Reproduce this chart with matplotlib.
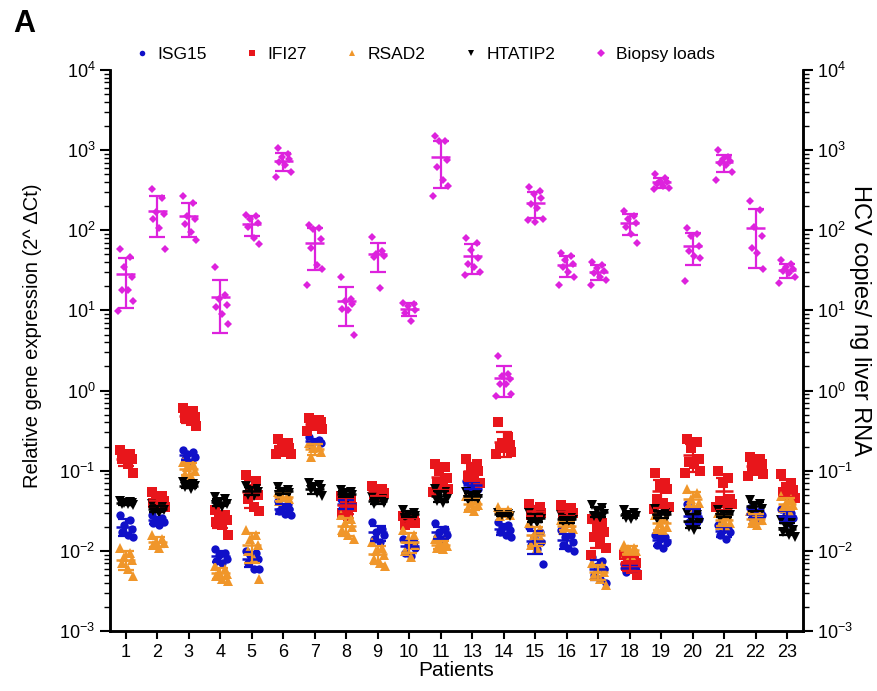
import numpy as np
import matplotlib
matplotlib.use("Agg")
import matplotlib.pyplot as plt
from matplotlib.lines import Line2D
from matplotlib.ticker import FixedLocator

plt.rcParams['font.family'] = ['Liberation Sans', 'DejaVu Sans']

patients = [1, 2, 3, 4, 5, 6, 7, 8, 9, 10, 11, 13, 14, 15, 16, 17, 18, 19, 20, 21, 22, 23]

isg15 = [
    [0.028, 0.024, 0.021, 0.019, 0.017, 0.016, 0.015],
    [0.028, 0.026, 0.024, 0.023, 0.022, 0.021],
    [0.18, 0.17, 0.16, 0.15, 0.14, 0.13],
    [0.0105, 0.0095, 0.0088, 0.008, 0.0075, 0.007],
    [0.01, 0.0095, 0.009, 0.008, 0.007, 0.006, 0.006],
    [0.042, 0.038, 0.035, 0.033, 0.031, 0.029, 0.028],
    [0.26, 0.24, 0.23, 0.22, 0.21],
    [0.045, 0.04, 0.038, 0.035, 0.033],
    [0.023, 0.019, 0.017, 0.016, 0.014, 0.013],
    [0.014, 0.013, 0.012, 0.011, 0.0095, 0.0087],
    [0.022, 0.019, 0.017, 0.016, 0.015, 0.014],
    [0.075, 0.07, 0.065, 0.06, 0.058],
    [0.023, 0.021, 0.02, 0.018, 0.017, 0.016, 0.015],
    [0.02, 0.017, 0.015, 0.013, 0.012, 0.0105, 0.0068],
    [0.018, 0.016, 0.015, 0.013, 0.012, 0.011, 0.01],
    [0.0085, 0.0075, 0.0065, 0.006, 0.005, 0.0045, 0.004],
    [0.0068, 0.0063, 0.006, 0.0058, 0.0055],
    [0.016, 0.015, 0.014, 0.013, 0.012, 0.011],
    [0.038, 0.03, 0.027, 0.025, 0.023, 0.022],
    [0.021, 0.019, 0.018, 0.017, 0.016, 0.014],
    [0.034, 0.031, 0.03, 0.028, 0.026, 0.025],
    [0.033, 0.03, 0.028, 0.026, 0.024, 0.022],
]

ifi27 = [
    [0.18, 0.16, 0.15, 0.14, 0.14, 0.12, 0.095],
    [0.055, 0.048, 0.045, 0.042, 0.040, 0.037, 0.035],
    [0.6, 0.55, 0.5, 0.47, 0.45, 0.42, 0.36],
    [0.032, 0.028, 0.026, 0.024, 0.023, 0.021, 0.016],
    [0.088, 0.075, 0.06, 0.05, 0.045, 0.035, 0.031],
    [0.25, 0.22, 0.2, 0.19, 0.18, 0.17, 0.16, 0.16],
    [0.45, 0.43, 0.42, 0.4, 0.38, 0.36, 0.33, 0.31],
    [0.048, 0.044, 0.04, 0.035, 0.03, 0.027],
    [0.065, 0.06, 0.056, 0.053, 0.05, 0.047],
    [0.027, 0.025, 0.023, 0.022, 0.021],
    [0.12, 0.11, 0.1, 0.08, 0.07, 0.065, 0.06, 0.055],
    [0.14, 0.12, 0.11, 0.1, 0.085, 0.075, 0.07],
    [0.4, 0.26, 0.22, 0.21, 0.2, 0.19, 0.17, 0.16],
    [0.038, 0.035, 0.032, 0.03, 0.028, 0.027],
    [0.037, 0.034, 0.031, 0.03, 0.028, 0.026],
    [0.025, 0.022, 0.02, 0.017, 0.015, 0.013, 0.011, 0.009],
    [0.009, 0.008, 0.0075, 0.007, 0.0065, 0.006, 0.005],
    [0.095, 0.07, 0.065, 0.06, 0.045, 0.04, 0.035, 0.033],
    [0.25, 0.23, 0.19, 0.14, 0.13, 0.12, 0.1, 0.095],
    [0.1, 0.08, 0.07, 0.045, 0.042, 0.04, 0.038, 0.035],
    [0.15, 0.14, 0.13, 0.12, 0.11, 0.1, 0.09, 0.085],
    [0.09, 0.07, 0.062, 0.058, 0.055, 0.05, 0.046],
]

rsad2 = [
    [0.011, 0.0095, 0.0085, 0.0078, 0.007, 0.006, 0.0048],
    [0.016, 0.014, 0.013, 0.0125, 0.012, 0.011],
    [0.13, 0.12, 0.11, 0.10, 0.09, 0.085],
    [0.0065, 0.006, 0.0055, 0.0052, 0.0048, 0.0045, 0.0042],
    [0.018, 0.016, 0.014, 0.012, 0.01, 0.008, 0.0045],
    [0.055, 0.05, 0.047, 0.044, 0.042],
    [0.22, 0.2, 0.19, 0.17, 0.15],
    [0.028, 0.025, 0.022, 0.02, 0.018, 0.016, 0.014],
    [0.013, 0.011, 0.01, 0.009, 0.008, 0.007, 0.0065],
    [0.018, 0.016, 0.014, 0.012, 0.01, 0.0085],
    [0.014, 0.013, 0.012, 0.0115, 0.011, 0.0105],
    [0.048, 0.044, 0.04, 0.037, 0.034, 0.031],
    [0.035, 0.032, 0.03, 0.028, 0.027],
    [0.022, 0.019, 0.016, 0.014, 0.012, 0.011],
    [0.024, 0.022, 0.02, 0.019, 0.018],
    [0.007, 0.0065, 0.006, 0.0055, 0.005, 0.0045, 0.0037],
    [0.012, 0.011, 0.0105, 0.01, 0.0095, 0.009],
    [0.028, 0.025, 0.022, 0.02, 0.019, 0.018],
    [0.06, 0.052, 0.045, 0.04, 0.037, 0.035],
    [0.03, 0.027, 0.025, 0.022, 0.021, 0.02],
    [0.031, 0.028, 0.026, 0.024, 0.022, 0.021],
    [0.048, 0.044, 0.04, 0.037, 0.034, 0.031],
]

htatip2 = [
    [0.042, 0.041, 0.040, 0.040, 0.039, 0.038, 0.037],
    [0.038, 0.035, 0.033, 0.032, 0.031, 0.030],
    [0.072, 0.068, 0.066, 0.064, 0.062, 0.060],
    [0.047, 0.044, 0.041, 0.039, 0.037, 0.035],
    [0.065, 0.06, 0.057, 0.054, 0.05, 0.048],
    [0.062, 0.058, 0.055, 0.052, 0.05],
    [0.07, 0.066, 0.063, 0.06, 0.058, 0.052, 0.048],
    [0.058, 0.055, 0.053, 0.05, 0.048, 0.046],
    [0.047, 0.044, 0.042, 0.04, 0.038],
    [0.032, 0.03, 0.028, 0.027, 0.026],
    [0.06, 0.055, 0.05, 0.045, 0.042, 0.04],
    [0.055, 0.05, 0.048, 0.045, 0.043],
    [0.03, 0.029, 0.028, 0.027],
    [0.03, 0.028, 0.026, 0.025, 0.023, 0.022],
    [0.028, 0.026, 0.025, 0.024, 0.023, 0.022],
    [0.037, 0.034, 0.031, 0.029, 0.027, 0.026],
    [0.032, 0.03, 0.028, 0.027, 0.026, 0.025],
    [0.033, 0.03, 0.028, 0.027, 0.025],
    [0.03, 0.028, 0.025, 0.022, 0.02, 0.018],
    [0.032, 0.03, 0.029, 0.028, 0.026],
    [0.043, 0.038, 0.035, 0.033, 0.031],
    [0.024, 0.022, 0.02, 0.018, 0.017, 0.016, 0.015],
]

biopsy = [
    [59, 47, 35, 26, 18, 18, 13, 9.8],
    [330, 250, 170, 158, 140, 106, 59],
    [267, 221, 151, 138, 119, 94, 76],
    [35, 15.5, 14, 11.8, 11, 8.9, 6.7],
    [155, 150, 140, 125, 110, 80, 68],
    [1050, 900, 830, 780, 720, 650, 540, 460],
    [115, 108, 104, 78, 60, 37, 33, 21],
    [26, 14, 13, 12, 10.5, 10, 5],
    [82, 55, 51, 48, 46, 19],
    [12.5, 12, 11.5, 10, 9.3, 7.4],
    [1500, 1300, 1300, 750, 620, 430, 360, 270],
    [80, 70, 57, 45, 38, 35, 30, 28],
    [2.7, 1.6, 1.5, 1.4, 1.2, 1.2, 0.9, 0.85],
    [345, 310, 280, 250, 215, 190, 140, 135, 128],
    [52, 48, 43, 38, 35, 30, 26, 21],
    [40, 37, 34, 31, 29, 26, 24, 21],
    [175, 150, 140, 122, 110, 90, 70],
    [500, 450, 410, 400, 380, 360, 340, 330],
    [106, 90, 85, 63, 55, 48, 45, 23],
    [1000, 820, 780, 730, 700, 660, 530, 430],
    [235, 180, 110, 85, 60, 52, 33],
    [42, 38, 35, 33, 31, 29, 26, 22],
]

decades = [1e-3, 1e-2, 1e-1, 1e0, 1e1, 1e2, 1e3, 1e4]

# name, data, colour, marker, size
series = [
    ("ISG15", isg15, "#1010c8", "o", 6),
    ("IFI27", ifi27, "#e8161b", "s", 6.5),
    ("RSAD2", rsad2, "#f0962a", "^", 6.5),
    ("HTATIP2", htatip2, "#000000", "v", 6.5),
]
biopsy_style = ("Biopsy loads", biopsy, "#dd22dd", "D", 4.5)

jitter = [-0.18, 0.14, -0.04, 0.2, -0.12, 0.06, 0.24, -0.24, 0.0]

fig = plt.figure(figsize=(8.78, 6.91), dpi=100)
ax = fig.add_axes([0.1253, 0.0868, 0.789, 0.8119])
ax2 = ax.twinx()


def draw(axis, vals, color, marker, ms):
    for i, pts in enumerate(vals):
        xc = i + 1
        xs = [xc + jitter[k % len(jitter)] for k in range(len(pts))]
        axis.plot(xs, pts, linestyle='none', marker=marker, color=color,
                  markersize=ms, markeredgewidth=0, zorder=3)
        m = np.mean(pts)
        sd = np.std(pts, ddof=1)
        low = min(sd, m * 0.9)
        axis.errorbar([xc], [m], yerr=[[low], [sd]], fmt='none', ecolor=color,
                      elinewidth=1.6, capsize=6, capthick=1.6, zorder=4)
        axis.hlines(m, xc - 0.3, xc + 0.3, color=color, linewidth=1.8, zorder=4)


for name, vals, color, marker, ms in series:
    draw(ax, vals, color, marker, ms)
name, vals, color, marker, ms = biopsy_style
draw(ax2, vals, color, marker, ms)

# minor ticks only inside the shown range
minors = [d * k for d in decades[:-1] for k in range(2, 10)]

for a in (ax, ax2):
    a.set_yscale('log')
    a.set_ylim(1e-3, 1e4)
    a.set_xlim(0.5, 22.5)
    a.yaxis.set_major_locator(FixedLocator(decades))
    a.yaxis.set_minor_locator(FixedLocator(minors))
    a.tick_params(axis='y', which='major', length=7, width=1.5, labelsize=13)
    a.tick_params(axis='y', which='minor', length=4, width=1)
    a.spines['top'].set_visible(False)
    for s in ('left', 'right', 'bottom'):
        a.spines[s].set_linewidth(1.8)

ax.set_xticks(range(1, len(patients) + 1))
ax.set_xticklabels([str(p) for p in patients])
ax.tick_params(axis='x', length=6, width=1.5, labelsize=13)
ax.set_xlabel("Patients", fontsize=15, labelpad=0)
ax.set_ylabel("Relative gene expression (2^ \u0394Ct)", fontsize=14.5)
ax.yaxis.set_label_coords(-0.098, 0.527)
ax2.set_ylabel("HCV copies/ ng liver RNA", fontsize=17, rotation=270, va='center')
ax2.yaxis.set_label_coords(1.082, 0.553)

handles = []
for name, vals, color, marker, ms in series + [biopsy_style]:
    handles.append(Line2D([], [], linestyle='none', marker=marker, color=color,
                          markersize=4, markeredgewidth=0, label=name))
fig.legend(handles=handles, loc='center', bbox_to_anchor=(0.483, 0.921), ncol=5,
           frameon=False, fontsize=12.5, handletextpad=0.4, columnspacing=2.1,
           handlelength=1.0)

fig.text(0.015, 0.965, "A", fontsize=22, fontweight='bold', va='center')

fig.savefig("out.png", dpi=100)
